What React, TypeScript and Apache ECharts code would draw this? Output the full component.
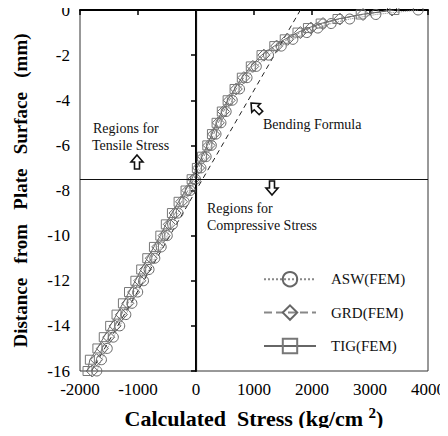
import React, { useEffect, useRef } from "react";
import * as echarts from "echarts";

const depths = [0, -0.2, -0.4, -0.6, -0.8, -1.0, -1.3, -1.6, -2.0, -2.5, -3.0, -3.5, -4.0, -4.5, -5.0, -5.5, -6.0, -6.5, -7.0, -7.5, -8.0, -8.5, -9.0, -9.5, -10.0, -10.5, -11.0, -11.5, -12.0, -12.5, -13.0, -13.5, -14.0, -14.5, -15.0, -15.5, -16.0];
const aswStress = [3830, 3100, 2650, 2330, 2100, 1910, 1670, 1470, 1250, 1040, 880, 750, 625, 520, 430, 345, 265, 175, 85, -10, -100, -205, -310, -405, -495, -600, -710, -810, -905, -1005, -1105, -1210, -1315, -1425, -1530, -1630, -1710];
const grdStress = [3380, 2880, 2480, 2190, 1980, 1800, 1580, 1390, 1170, 980, 825, 695, 575, 475, 385, 305, 225, 135, 45, -40, -140, -250, -360, -460, -550, -660, -770, -870, -970, -1075, -1175, -1285, -1395, -1505, -1615, -1715, -1790];
const tigStress = [3420, 2840, 2440, 2150, 1930, 1750, 1530, 1350, 1130, 945, 790, 665, 545, 445, 355, 275, 195, 105, 15, -75, -180, -300, -415, -520, -615, -725, -840, -945, -1045, -1155, -1260, -1370, -1480, -1590, -1700, -1830, -1870];
const bendingStress = [1800, -1800];
const bendingDepth = [0, -16];
const seriesNames = ["ASW(FEM)", "GRD(FEM)", "TIG(FEM)"];
const neutralDepth = -7.5;

const SERIF = "'Liberation Serif', 'Times New Roman', serif";

export default function App() {
  const ref = useRef<HTMLDivElement>(null);
  useEffect(() => {
    if (!ref.current) return;
    const chart = echarts.init(ref.current, null, { renderer: "svg" });
    const markerStyle = (color: string) => ({ color: "rgba(255,255,255,0)", borderColor: color, borderWidth: 1 });
    const toPairs = (arr: number[]) => arr.map((v, i) => [v, depths[i]]);
    const arrowUp = [[0, -7], [6, 0], [2.5, 0], [2.5, 7], [-2.5, 7], [-2.5, 0], [-6, 0]];
    const arrowDown = arrowUp.map(([x, y]) => [x, -y]);
    const arrowStyle = { fill: "#fff", stroke: "#111", lineWidth: 1.6 };
    const textStyle = (size: number) => ({ fontFamily: SERIF, fontSize: size, fill: "#111" });
    chart.setOption({
      animation: false,
      backgroundColor: "#fff",
      grid: { left: 80, right: 18, top: 10, bottom: 65, show: true, borderColor: "#333", borderWidth: 1 },
      xAxis: {
        type: "value", min: -2000, max: 4000, interval: 1000,
        name: "Calculated  Stress (kg/cm {sup|2})",
        nameLocation: "middle", nameGap: 34,
        nameTextStyle: {
          fontFamily: SERIF, fontSize: 22, fontWeight: "bold", color: "#000",
          rich: { sup: { fontFamily: SERIF, fontSize: 15, fontWeight: "bold", color: "#000", verticalAlign: "top", padding: [0, 0, 12, 0] } },
        },
        axisLine: { lineStyle: { color: "#000", width: 2 } },
        axisTick: { show: true, inside: false, length: 5, lineStyle: { color: "#000", width: 1.5 } },
        axisLabel: { fontFamily: SERIF, fontSize: 17, color: "#000", margin: 10, formatter: (v: number) => String(v) },
        splitLine: { show: false },
      },
      yAxis: {
        type: "value", min: -16, max: 0, interval: 2,
        name: "Distance   from   Plate   Surface   (mm)",
        nameLocation: "middle", nameGap: 50, nameRotate: 90,
        nameTextStyle: { fontFamily: SERIF, fontSize: 19, fontWeight: "bold", color: "#000" },
        axisLine: { lineStyle: { color: "#000", width: 2 } },
        axisTick: { show: true, inside: false, length: 5, lineStyle: { color: "#000", width: 1.5 } },
        axisLabel: { fontFamily: SERIF, fontSize: 17, color: "#000", margin: 10, formatter: (v: number) => String(v) },
        splitLine: { show: false },
      },
      legend: {
        orient: "vertical", left: 258, top: 266, itemWidth: 52, itemHeight: 18, itemGap: 17,
        data: seriesNames,
        textStyle: { fontFamily: SERIF, fontSize: 15, color: "#111", padding: [0, 0, 0, 10] },
      },
      series: [
        {
          name: seriesNames[0], type: "line", data: toPairs(aswStress),
          symbol: "circle", symbolSize: 10,
          lineStyle: { color: "#888", width: 1, type: "dotted" },
          itemStyle: markerStyle("#666"),
        },
        {
          name: seriesNames[1], type: "line", data: toPairs(grdStress),
          symbol: "diamond", symbolSize: 12,
          lineStyle: { color: "#888", width: 1, type: "dashed" },
          itemStyle: markerStyle("#666"),
        },
        {
          name: seriesNames[2], type: "line", data: toPairs(tigStress),
          symbol: "rect", symbolSize: 9,
          lineStyle: { color: "#666", width: 1, type: "solid" },
          itemStyle: markerStyle("#777"),
        },
        {
          name: "Bending Formula", type: "line",
          data: bendingStress.map((v, i) => [v, bendingDepth[i]]),
          symbol: "none", silent: true,
          lineStyle: { color: "#222", width: 1, type: [5, 4] },
          markLine: {
            silent: true, symbol: "none", label: { show: false },
            lineStyle: { color: "#111", width: 1.2, type: "solid" },
            data: [{ xAxis: 0 }, { yAxis: neutralDepth }],
          },
        },
      ],
      graphic: [
        { type: "text", left: 93, top: 121, style: { text: "Regions for", ...textStyle(14) } },
        { type: "text", left: 92, top: 138, style: { text: "Tensile Stress", ...textStyle(14) } },
        { type: "polygon", x: 137, y: 162, shape: { points: arrowUp }, style: arrowStyle },
        { type: "polygon", x: 272, y: 188, shape: { points: arrowDown }, style: arrowStyle },
        { type: "text", left: 207, top: 201, style: { text: "Regions for", ...textStyle(14) } },
        { type: "text", left: 207, top: 218, style: { text: "Compressive Stress", ...textStyle(14) } },
        { type: "polygon", x: 256, y: 108, rotation: Math.PI / 4, shape: { points: arrowUp }, style: arrowStyle },
        { type: "text", left: 263, top: 117, style: { text: "Bending Formula", ...textStyle(14) } },
      ],
    });
    return () => chart.dispose();
  }, []);
  return <div ref={ref} style={{ width: 448, height: 436, margin: -8 }} />;
}
